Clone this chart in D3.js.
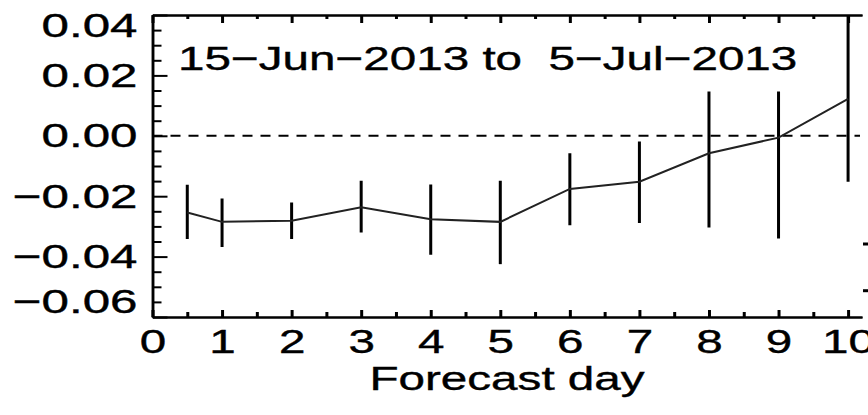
<!DOCTYPE html>
<html>
<head>
<meta charset="utf-8">
<script src="https://cdn.jsdelivr.net/npm/d3@7/dist/d3.min.js"></script>
<style>
  html, body { margin: 0; padding: 0; background: #fff; }
  svg { display: block; }
  text { font-family: "Liberation Sans", Arial, sans-serif; fill: #000; stroke: #000; stroke-width: 0.4px; }
</style>
</head>
<body>
<svg id="chart" width="868" height="415"></svg>
<script>
// Mean forecast error by lead day, with spread bars
const days  = [0.5, 1, 2, 3, 4, 5, 6, 7, 8, 9, 10];
const mean  = [-0.0254, -0.0285, -0.0281, -0.0237, -0.0276, -0.0285, -0.0176, -0.0152, -0.0058, -0.0006, 0.0122];
const lower = [-0.0342, -0.0368, -0.0342, -0.0320, -0.0394, -0.0425, -0.0296, -0.0289, -0.0304, -0.0340, -0.0152];
const upper = [-0.0162, -0.0208, -0.0221, -0.0149, -0.0161, -0.0149, -0.0058, -0.0019, 0.0147, 0.0147, 0.0450];

const xMajor = [0, 1, 2, 3, 4, 5, 6, 7, 8, 9, 10];
const xMinor = [0.5, 1.5, 2.5, 3.5, 4.5, 5.5, 6.5, 7.5, 8.5, 9.5];
const yMajor = [-0.06, -0.04, -0.02, 0.00, 0.02, 0.04];
const yMinor = [-0.055, -0.05, -0.045, -0.035, -0.03, -0.025, -0.015, -0.01, -0.005,
                0.005, 0.01, 0.015, 0.025, 0.03, 0.035];

const periodLabel = "15\u2212Jun\u22122013 to  5\u2212Jul\u22122013";
const xTitle = "Forecast day";

(function draw() {
  const svg = d3.select("#chart");
  const W = 868;
  const pLeft = 152.5, pRight = 862, pTop = 15, pBottom = 317;
  const FS = 34;      // label font size
  const SX = 1.4;     // horizontal glyph stretch

  const x = d3.scaleLinear().domain([0, 10.2]).range([pLeft, pRight]);
  const y = d3.scaleLinear().domain([-0.06, 0.04]).range([pBottom, pTop]);

  svg.append("defs").append("clipPath").attr("id", "plotclip")
    .append("rect").attr("x", pLeft).attr("y", pTop)
    .attr("width", pRight - pLeft).attr("height", pBottom - pTop);

  // zero reference line
  svg.append("line")
    .attr("x1", pLeft).attr("x2", pRight - 2)
    .attr("y1", y(0)).attr("y2", y(0))
    .attr("stroke", "#000").attr("stroke-width", 2)
    .attr("stroke-dasharray", "10,8");

  const plot = svg.append("g").attr("clip-path", "url(#plotclip)");

  // spread bars
  plot.selectAll("line.bar").data(days).enter().append("line")
    .attr("class", "bar")
    .attr("x1", d => x(d)).attr("x2", d => x(d))
    .attr("y1", (d, i) => y(upper[i])).attr("y2", (d, i) => y(lower[i]))
    .attr("stroke", "#000").attr("stroke-width", 3);

  // mean line
  plot.append("path")
    .datum(days.map((d, i) => [d, mean[i]]))
    .attr("fill", "none").attr("stroke", "#222").attr("stroke-width", 2)
    .attr("d", d3.line().x(d => x(d[0])).y(d => y(d[1])));

  function styleAxis(g, width) {
    g.attr("font-size", FS).attr("font-family", "Liberation Sans, Arial, sans-serif");
    g.selectAll("path.domain").attr("stroke", "#000").attr("stroke-width", width);
    g.selectAll(".tick line").attr("stroke", "#000");
  }

  // left axis: minor then major ticks, pointing inward
  const gLeftMinor = svg.append("g").attr("transform", `translate(${pLeft},0)`)
    .call(d3.axisLeft(y).tickValues(yMinor).tickSizeInner(-9).tickSizeOuter(0).tickFormat(""));
  styleAxis(gLeftMinor, 2.5);
  gLeftMinor.selectAll(".tick line").attr("stroke-width", 2);

  const gLeft = svg.append("g").attr("transform", `translate(${pLeft},0)`)
    .call(d3.axisLeft(y).tickValues(yMajor).tickSizeInner(-15).tickSizeOuter(0)
          .tickPadding(15).tickFormat(d3.format(".2f")));
  styleAxis(gLeft, 2.5);
  gLeft.selectAll(".tick line").attr("stroke-width", 2);
  gLeft.selectAll(".tick text")
    .attr("fill", "#000")
    .attr("x", -15 / 1.45)
    .attr("transform", "scale(1.45,1)")
    .attr("y", d => d === 0.04 ? 10.5 : (d === -0.06 ? -15.5 : 0));

  // bottom axis
  const gBotMinor = svg.append("g").attr("transform", `translate(0,${pBottom})`)
    .call(d3.axisBottom(x).tickValues(xMinor).tickSizeInner(-5).tickSizeOuter(0).tickFormat(""));
  styleAxis(gBotMinor, 2);
  gBotMinor.selectAll(".tick line").attr("stroke-width", 3);

  const gBot = svg.append("g").attr("transform", `translate(0,${pBottom})`)
    .call(d3.axisBottom(x).tickValues(xMajor).tickSizeInner(-7).tickSizeOuter(0)
          .tickPadding(12).tickFormat(d3.format("d")));
  styleAxis(gBot, 2);
  gBot.selectAll(".tick line").attr("stroke-width", 3);
  gBot.selectAll(".tick text").attr("fill", "#000").attr("transform", `scale(${SX},1)`);

  // top border with inward ticks
  const gTopMinor = svg.append("g").attr("transform", `translate(0,${pTop})`)
    .call(d3.axisTop(x).tickValues(xMinor).tickSizeInner(-4).tickSizeOuter(0).tickFormat(""));
  styleAxis(gTopMinor, 2);
  gTopMinor.selectAll(".tick line").attr("stroke-width", 3);

  const gTop = svg.append("g").attr("transform", `translate(0,${pTop})`)
    .call(d3.axisTop(x).tickValues(xMajor).tickSizeInner(-8).tickSizeOuter(0).tickFormat(""));
  styleAxis(gTop, 2);
  gTop.selectAll(".tick line").attr("stroke-width", 3);

  // edge of the adjoining panel's axis ticks
  svg.append("g").selectAll("line").data([244, 290.7]).enter().append("line")
    .attr("x1", 863).attr("x2", W).attr("y1", d => d).attr("y2", d => d)
    .attr("stroke", "#000").attr("stroke-width", 3);

  // period label
  svg.append("text")
    .attr("transform", `translate(178,70) scale(${SX},1)`)
    .attr("font-size", FS)
    .attr("xml:space", "preserve")
    .style("white-space", "pre")
    .text(periodLabel);

  // x title
  svg.append("text")
    .attr("transform", `translate(507,390) scale(${SX},1)`)
    .attr("text-anchor", "middle")
    .attr("font-size", FS)
    .text(xTitle);
})();
</script>
</body>
</html>
